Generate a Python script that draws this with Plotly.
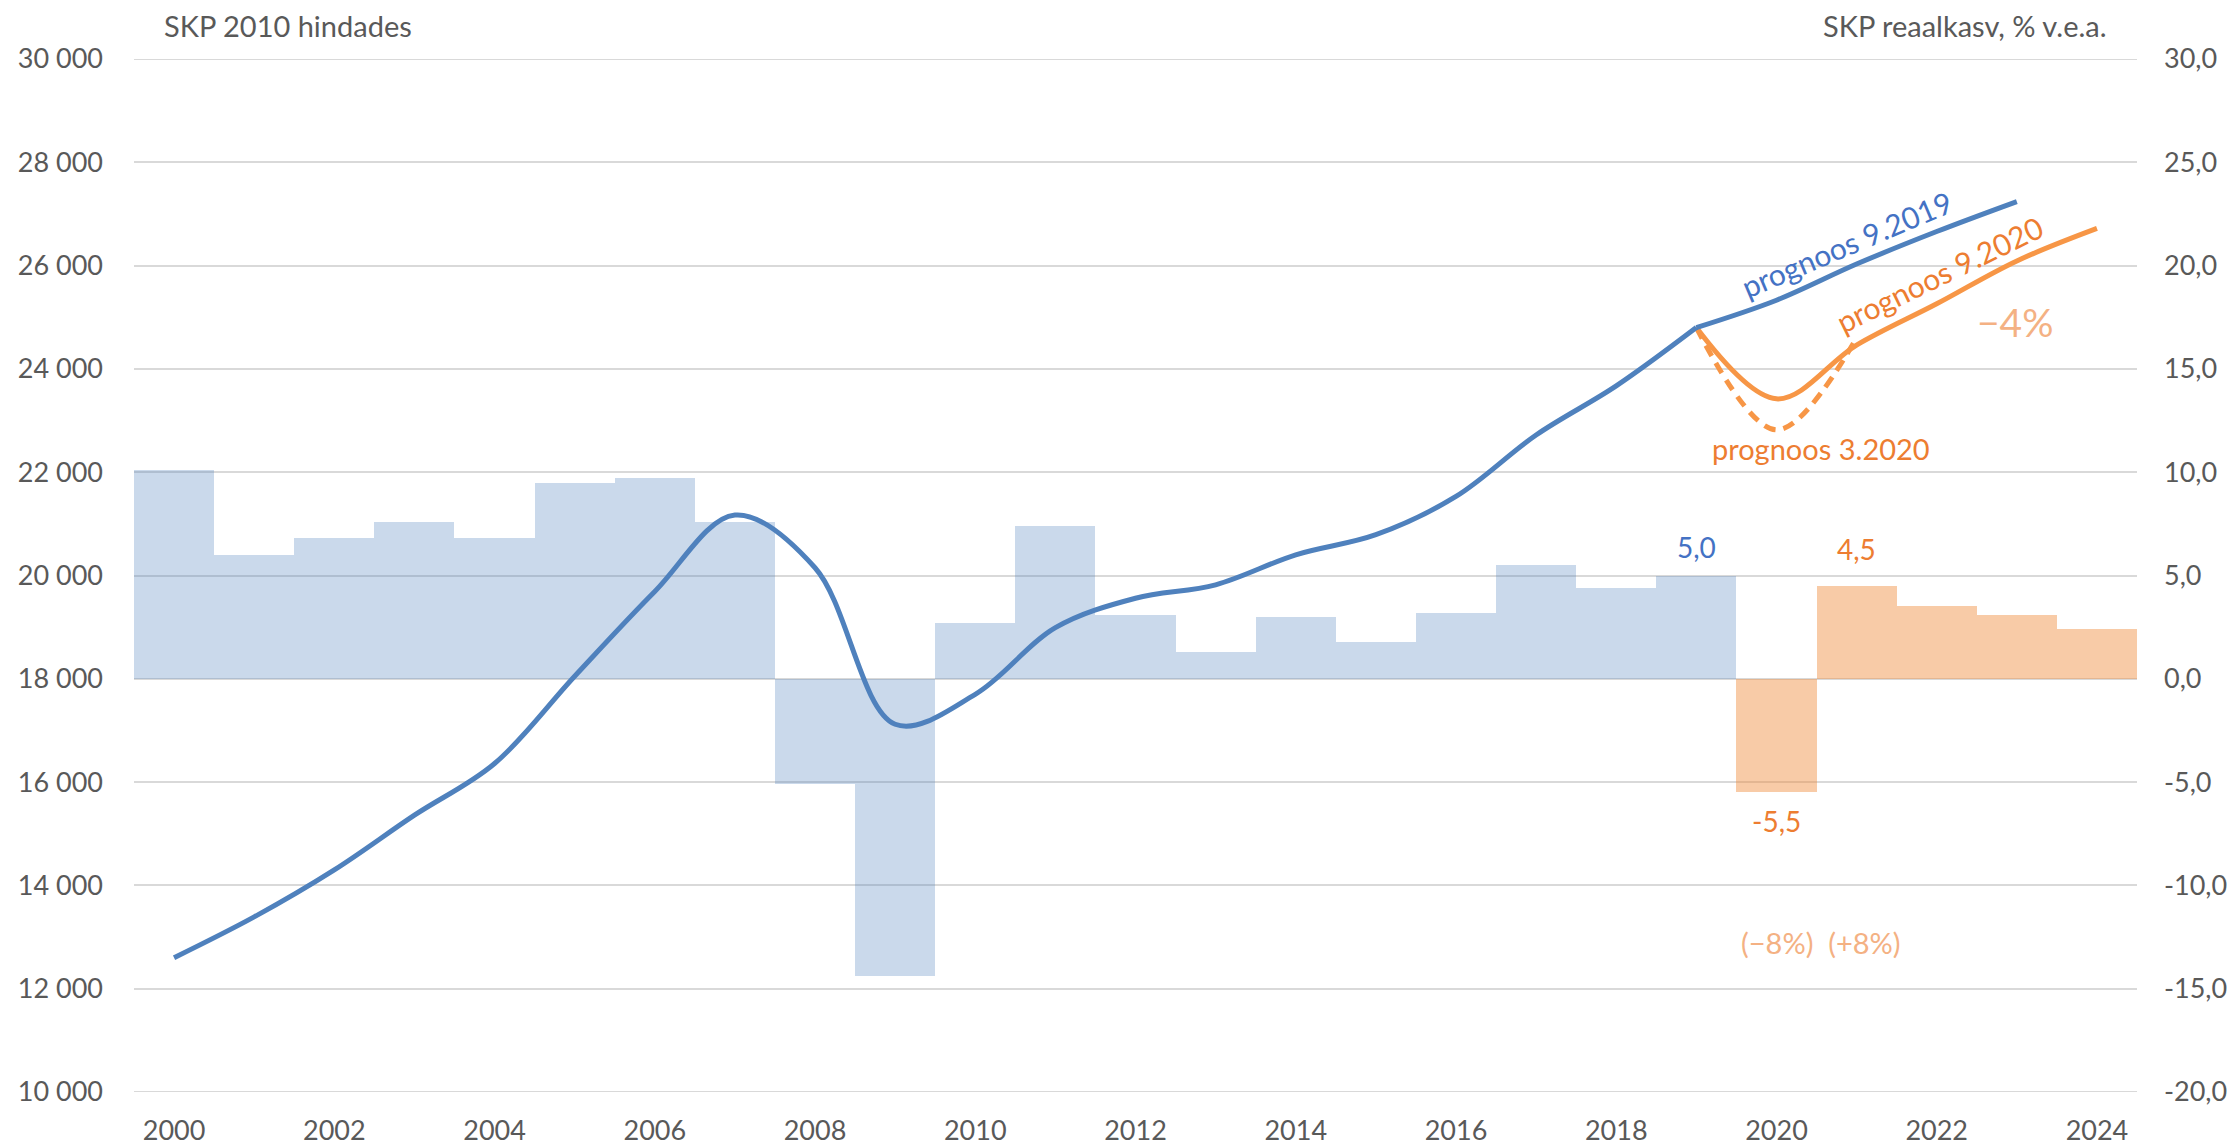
import plotly.graph_objects as go

# ---- data ----
years = list(range(2000, 2025))
growth = [10.1, 6.0, 6.8, 7.6, 6.8, 9.5, 9.7, 7.6, -5.1, -14.4,
          2.7, 7.4, 3.1, 1.3, 3.0, 1.8, 3.2, 5.5, 4.4, 5.0,
          -5.5, 4.5, 3.5, 3.1, 2.4]
n_actual = 20  # 2000-2019 actual, 2020-2024 forecast

hist_years = list(range(2000, 2020))
gdp_hist = [12600, 13390, 14300, 15360, 16360, 18050, 19690, 21170, 20150, 17120,
            17700, 18990, 19560, 19820, 20400, 20790, 21530, 22720, 23670, 24800]

f919_years = [2019, 2020, 2021, 2022, 2023]
gdp_f919 = [24800, 25330, 26030, 26660, 27240]

f920_years = [2019, 2020, 2021, 2022, 2023, 2024]
gdp_f920 = [24800, 23420, 24460, 25260, 26090, 26720]

f320_years = [2019, 2020, 2021]
gdp_f320 = [24800, 22820, 24600]

x_ticks = list(range(2000, 2025, 2))
gdp_ticks = list(range(10000, 30001, 2000))
gdp_ticktext = ["10 000", "12 000", "14 000", "16 000", "18 000", "20 000",
                "22 000", "24 000", "26 000", "28 000", "30 000"]
pct_ticks = list(range(-20, 31, 5))
pct_ticktext = ["-20,0", "-15,0", "-10,0", "-5,0", "0,0", "5,0",
                "10,0", "15,0", "20,0", "25,0", "30,0"]

# ---- styles ----
FONT = "Lato"
GREY = "#595959"
GRID = "#D9D9D9"
BLUE_LINE = "#4F81BD"
ORANGE_LINE = "#F79646"
BLUE_BAR = "rgba(79,129,189,0.30)"
ORANGE_BAR = "rgba(240,140,60,0.45)"
BLUE_TXT = "#4472C4"
ORANGE_TXT = "#ED7D31"
LIGHT_ORANGE_TXT = "#F4B183"

fig = go.Figure()

fig.add_trace(go.Bar(x=years[:n_actual], y=growth[:n_actual], width=1,
                     marker=dict(color=BLUE_BAR, line=dict(width=0)),
                     yaxis="y", showlegend=False))
fig.add_trace(go.Bar(x=years[n_actual:], y=growth[n_actual:], width=1,
                     marker=dict(color=ORANGE_BAR, line=dict(width=0)),
                     yaxis="y", showlegend=False))

line_w = 5
fig.add_trace(go.Scatter(x=f320_years, y=gdp_f320, mode="lines", yaxis="y2",
                         line=dict(color=ORANGE_LINE, width=line_w, shape="spline", dash="12px,8px"),
                         showlegend=False))
fig.add_trace(go.Scatter(x=f920_years, y=gdp_f920, mode="lines", yaxis="y2",
                         line=dict(color=ORANGE_LINE, width=line_w, shape="spline"),
                         showlegend=False))
fig.add_trace(go.Scatter(x=f919_years, y=gdp_f919, mode="lines", yaxis="y2",
                         line=dict(color=BLUE_LINE, width=line_w, shape="spline"),
                         showlegend=False))
fig.add_trace(go.Scatter(x=hist_years, y=gdp_hist, mode="lines", yaxis="y2",
                         line=dict(color=BLUE_LINE, width=line_w, shape="spline"),
                         showlegend=False))

tick_font = dict(family=FONT, size=27, color=GREY)

fig.update_layout(
    width=2239, height=1148,
    margin=dict(l=134, r=102, t=59, b=56, autoexpand=False),
    paper_bgcolor="white", plot_bgcolor="white",
    barmode="overlay", bargap=0,
    showlegend=False,
    xaxis=dict(range=[1999.5, 2024.5], tickvals=x_ticks, ticktext=[str(v) for v in x_ticks],
               showgrid=False, zeroline=False, showline=False, ticks="", automargin=False,
               tickfont=tick_font, ticklabelstandoff=20),
    yaxis=dict(range=[-20, 30], tickvals=pct_ticks, ticktext=pct_ticktext, side="right",
               showgrid=True, gridcolor=GRID, gridwidth=2, zeroline=False, automargin=False,
               showline=False, ticks="", tickfont=tick_font, ticklabelstandoff=26),
    yaxis2=dict(range=[10000, 30000], tickvals=gdp_ticks, ticktext=gdp_ticktext,
                overlaying="y", side="left", showgrid=False, zeroline=False, automargin=False,
                showline=False, ticks="", tickfont=tick_font, ticklabelstandoff=30),
)

# top and bottom gridlines (plotly may skip gridlines at the plot edges)
for yv in (pct_ticks[0], pct_ticks[-1]):
    fig.add_shape(type="line", xref="paper", yref="y", x0=0, x1=1, y0=yv, y1=yv,
                  line=dict(color=GRID, width=2), layer="below")

ann = []
# axis titles
ann.append(dict(text="SKP 2010 hindades", xref="paper", yref="paper", x=0.014, y=1.032,
                xanchor="left", yanchor="middle", showarrow=False,
                font=dict(family=FONT, size=29, color=GREY)))
ann.append(dict(text="SKP reaalkasv, % v.e.a.", xref="paper", yref="paper", x=0.986, y=1.032,
                xanchor="right", yanchor="middle", showarrow=False,
                font=dict(family=FONT, size=29, color=GREY)))
# bar value labels
ann.append(dict(text="5,0", x=2019, y=growth[19], xref="x", yref="y", yanchor="bottom",
                yshift=10, showarrow=False, font=dict(family=FONT, size=28, color=BLUE_TXT)))
ann.append(dict(text="4,5", x=2021, y=growth[21], xref="x", yref="y", yanchor="bottom",
                yshift=18, showarrow=False, font=dict(family=FONT, size=28, color=ORANGE_TXT)))
ann.append(dict(text="-5,5", x=2020, y=growth[20], xref="x", yref="y", yanchor="top",
                yshift=-10, showarrow=False, font=dict(family=FONT, size=28, color=ORANGE_TXT)))
# forecast labels
ann.append(dict(text="prognoos 9.2019", x=2020.87, y=26420, xref="x", yref="y2",
                textangle=-23, showarrow=False, font=dict(family=FONT, size=30, color=BLUE_TXT)))
ann.append(dict(text="prognoos 9.2020", x=2022.03, y=25830, xref="x", yref="y2",
                textangle=-26, showarrow=False, font=dict(family=FONT, size=30, color=ORANGE_TXT)))
ann.append(dict(text="prognoos 3.2020", x=2020.55, y=22465, xref="x", yref="y2",
                showarrow=False, font=dict(family=FONT, size=29, color=ORANGE_TXT)))
ann.append(dict(text="\u22124%", x=2022.98, y=24910, xref="x", yref="y2",
                showarrow=False, font=dict(family=FONT, size=39, color=LIGHT_ORANGE_TXT)))
ann.append(dict(text="(\u22128%)  (+8%)", x=2020.56, y=12890, xref="x", yref="y2",
                showarrow=False, font=dict(family=FONT, size=29, color=LIGHT_ORANGE_TXT)))
fig.update_layout(annotations=ann)

fig.write_html("out.html", config={"displayModeBar": False},
               post_script="document.body.style.margin='0';document.body.style.overflow='hidden';")
